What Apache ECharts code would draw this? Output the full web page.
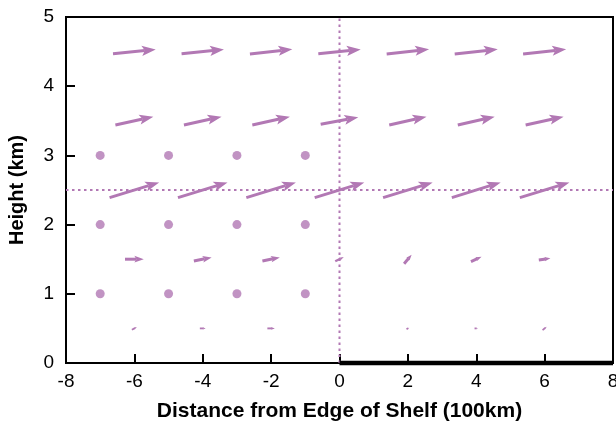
<!DOCTYPE html>
<html>
<head>
<meta charset="utf-8">
<script src="https://cdn.jsdelivr.net/npm/echarts@6/dist/echarts.min.js"></script>
<style>
	html, body { margin: 0; padding: 0; background: #fff; }
	#shelfChart { width: 616px; height: 423px; }
</style>
</head>
<body>
<div id="shelfChart"></div>
<script>
// grid of the vector field
var arrowX = [-6, -4, -2, 0, 2, 4, 6];
var arrowY = [0.5, 1.5, 2.5, 3.5, 4.5];
// horizontal / vertical components per row (axis units), rows bottom to top
var arrowU = [
	[0.145, 0.17, 0.22, 0, 0.08, 0.10, 0.12],
	[0.55, 0.52, 0.51, 0.25, 0.22, 0.31, 0.34],
	[1.45, 1.45, 1.45, 1.45, 1.45, 1.43, 1.45],
	[1.11, 1.10, 1.10, 1.10, 1.09, 1.08, 1.11],
	[1.25, 1.24, 1.24, 1.24, 1.24, 1.26, 1.26]
];
var arrowW = [
	[0.04, 0, 0, 0, 0.02, 0, 0.05],
	[0, 0.05, 0.05, 0.06, 0.13, 0.07, 0.025],
	[0.22, 0.22, 0.22, 0.22, 0.22, 0.22, 0.22],
	[0.12, 0.12, 0.12, 0.10, 0.12, 0.12, 0.12],
	[0.06, 0.06, 0.07, 0.06, 0.07, 0.07, 0.07]
];
// calm points
var dotX = [-7, -5, -3, -1];
var dotY = [1, 2, 3];
// reference lines and shelf
var refX = 0;
var refY = 2.5;
var shelfX = [0, 8];

var purple = '#b278b4';
var font = 'Liberation Sans, Arial, sans-serif';

var arrowData = [];
arrowY.forEach(function (y, i) {
	arrowX.forEach(function (x, j) {
		arrowData.push([x, y, arrowU[i][j], arrowW[i][j]]);
	});
});
var dotData = [];
dotY.forEach(function (y) {
	dotX.forEach(function (x) {
		dotData.push([x, y]);
	});
});

function drawArrow(params, api) {
	var x = api.value(0), y = api.value(1), u = api.value(2), w = api.value(3);
	if (!u && !w) return;
	var p0 = api.coord([x - u / 2, y - w / 2]);
	var p1 = api.coord([x + u / 2, y + w / 2]);
	var dx = p1[0] - p0[0], dy = p1[1] - p0[1];
	var len = Math.sqrt(dx * dx + dy * dy);
	var ux = dx / len, uy = dy / len;
	var hl = Math.min(14, len * 0.5);
	var hw = hl * 0.36;
	var bx = p1[0] - ux * hl, by = p1[1] - uy * hl;
	var nx = p1[0] - ux * hl * 0.78, ny = p1[1] - uy * hl * 0.78;
	return {
		type: 'group',
		children: [
			{
				type: 'line',
				shape: { x1: p0[0], y1: p0[1], x2: nx, y2: ny },
				style: { stroke: purple, lineWidth: Math.min(3, Math.max(1.8, len * 0.25)) }
			},
			{
				type: 'polygon',
				shape: { points: [p1, [bx - uy * hw, by + ux * hw], [nx, ny], [bx + uy * hw, by - ux * hw]] },
				style: { fill: purple }
			}
		]
	};
}

var myChart = echarts.init(document.getElementById('shelfChart'));
var option = {
	animation: false,
	grid: {
		left: 66,
		right: 3,
		top: 17,
		bottom: 60,
		outerBoundsMode: 'none',
		show: true,
		borderColor: '#000',
		borderWidth: 2
	},
	xAxis: {
		type: 'value',
		min: -8,
		max: 8,
		interval: 2,
		name: 'Distance from Edge of Shelf (100km)',
		nameLocation: 'middle',
		nameGap: 38,
		nameTextStyle: { fontFamily: font, fontSize: 21, fontWeight: 'bold', color: '#000' },
		axisLine: { onZero: false, lineStyle: { color: '#000', width: 2 } },
		axisTick: { inside: true, length: 9, lineStyle: { color: '#000', width: 2 } },
		axisLabel: { fontFamily: font, fontSize: 19, color: '#000', margin: 9 },
		splitLine: { show: false }
	},
	yAxis: {
		type: 'value',
		min: 0,
		max: 5,
		interval: 1,
		name: 'Height (km)',
		nameLocation: 'middle',
		nameGap: 39,
		nameTextStyle: { fontFamily: font, fontSize: 20, fontWeight: 'bold', color: '#000' },
		axisLine: { onZero: false, lineStyle: { color: '#000', width: 2 } },
		axisTick: { inside: true, length: 9, lineStyle: { color: '#000', width: 2 } },
		axisLabel: { fontFamily: font, fontSize: 19, color: '#000', margin: 12 },
		splitLine: { show: false }
	},
	series: [
		{
			type: 'line',
			data: [[refX, 0], [refX, 5]],
			symbol: 'none',
			lineStyle: { color: purple, width: 2, type: [2.5, 3.5] },
			z: 1
		},
		{
			type: 'line',
			data: [[-8, refY], [8, refY]],
			symbol: 'none',
			lineStyle: { color: purple, width: 2, type: [2.5, 3.5] },
			z: 1
		},
		{
			type: 'scatter',
			data: dotData,
			symbolSize: 9,
			itemStyle: { color: purple }
		},
		{
			type: 'custom',
			data: arrowData,
			renderItem: drawArrow,
			z: 3
		},
		{
			type: 'line',
			data: [[shelfX[0], 0], [shelfX[1], 0]],
			symbol: 'none',
			clip: false,
			lineStyle: { color: '#000', width: 4.5 },
			z: 5
		}
	]
};
myChart.setOption(option);
window.addEventListener('resize', () => myChart.resize(), false);
</script>
</body>
</html>
